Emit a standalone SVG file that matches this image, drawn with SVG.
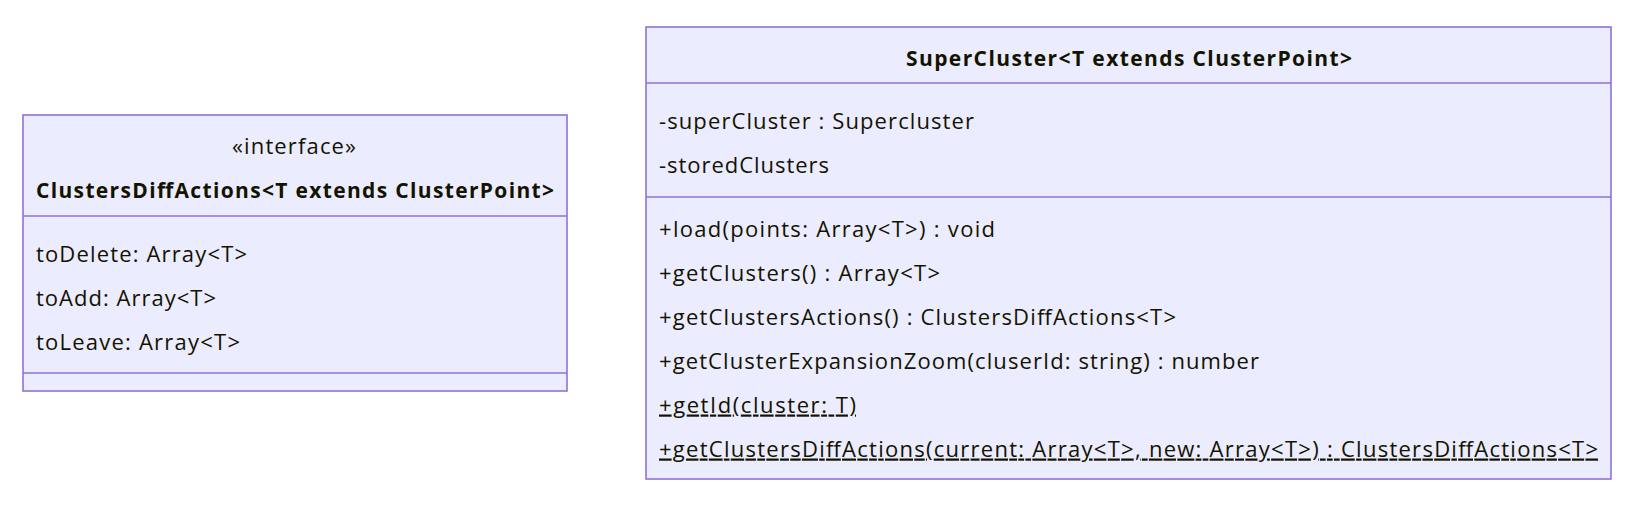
<svg xmlns="http://www.w3.org/2000/svg" width="1626" height="510" viewBox="0 0 1626 510">
<style>
  .box{fill:#ECECFF;stroke:#9370DB;stroke-width:1.6}
  .div{stroke:#9370DB;stroke-width:1.6;fill:none}
  text{font-family:"Open Sans","Noto Sans","DejaVu Sans",sans-serif;font-size:22px;fill:#131300}
  .title{font-weight:bold;text-anchor:middle;font-size:21px}
  .mid{text-anchor:middle}
  .static{text-decoration:underline}
</style>
<rect width="1626" height="510" fill="#ffffff"/>
<g id="connectors"></g>
<g id="ClustersDiffActions">
  <rect class="box" x="23" y="115" width="544" height="276"/>
  <line class="div" x1="23" y1="216" x2="567" y2="216"/>
  <line class="div" x1="23" y1="373" x2="567" y2="373"/>
  <text class="mid" x="294" y="154" textLength="124" lengthAdjust="spacing">«interface»</text>
  <text class="title" x="295" y="198" textLength="518" lengthAdjust="spacing">ClustersDiffActions&lt;T extends ClusterPoint&gt;</text>
  <text x="36" y="262" textLength="211" lengthAdjust="spacing">toDelete: Array&lt;T&gt;</text>
  <text x="36" y="306" textLength="180" lengthAdjust="spacing">toAdd: Array&lt;T&gt;</text>
  <text x="36" y="350" textLength="204" lengthAdjust="spacing">toLeave: Array&lt;T&gt;</text>
</g>
<g id="SuperCluster">
  <rect class="box" x="646" y="27" width="965" height="452"/>
  <line class="div" x1="646" y1="83" x2="1611" y2="83"/>
  <line class="div" x1="646" y1="197" x2="1611" y2="197"/>
  <text class="title" x="1129" y="66" textLength="446" lengthAdjust="spacing">SuperCluster&lt;T extends ClusterPoint&gt;</text>
  <text x="659" y="129" textLength="315" lengthAdjust="spacing">-superCluster : Supercluster</text>
  <text x="659" y="172.5" textLength="170" lengthAdjust="spacing">-storedClusters</text>
  <text x="659" y="236.5" textLength="336" lengthAdjust="spacing">+load(points: Array&lt;T&gt;) : void</text>
  <text x="659" y="280.5" textLength="281" lengthAdjust="spacing">+getClusters() : Array&lt;T&gt;</text>
  <text x="659" y="324.5" textLength="517" lengthAdjust="spacing">+getClustersActions() : ClustersDiffActions&lt;T&gt;</text>
  <text x="659" y="368.5" textLength="600" lengthAdjust="spacing">+getClusterExpansionZoom(cluserId: string) : number</text>
  <text class="static" x="659" y="412.5" textLength="197" lengthAdjust="spacing">+getId(cluster: T)</text>
  <text class="static" x="659" y="456.5" textLength="939" lengthAdjust="spacing">+getClustersDiffActions(current: Array&lt;T&gt;, new: Array&lt;T&gt;) : ClustersDiffActions&lt;T&gt;</text>
</g>
</svg>
